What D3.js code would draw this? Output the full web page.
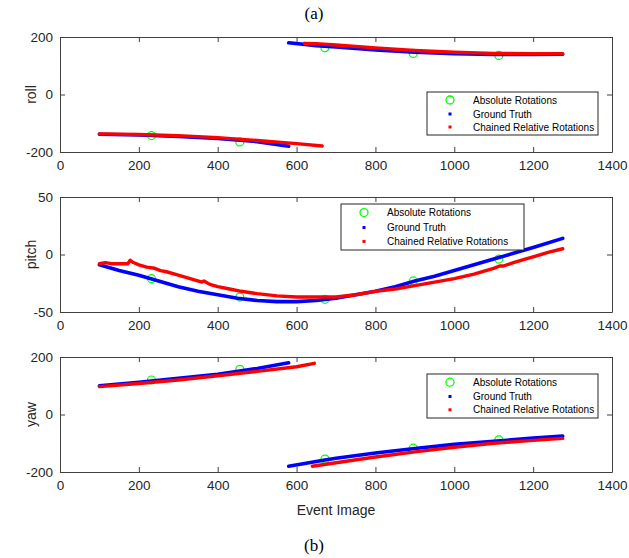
<!DOCTYPE html>
<html>
<head>
<meta charset="utf-8">
<script src="https://cdn.jsdelivr.net/npm/d3@7"></script>
<style>
    body { margin: 0; background: #fff; }
    svg { display: block; }
</style>
</head>
<body>
<div id="chart"></div>
<script>
// values: [event image, angle in degrees], null = wrap-around break
let xTicks = [0, 200, 400, 600, 800, 1000, 1200, 1400];
let legendLabels = ["Absolute Rotations", "Ground Truth", "Chained Relative Rotations"];

let absFrames = [232, 456, 672, 896, 1113];
let rollAbs = [-143, -165, 163, 143, 136];
let pitchAbs = [-21, -37, -39, -23, -4];
let yawAbs = [120, 157, -155, -117, -88];

let rollTruth = [[100, -138], [200, -141], [300, -146], [400, -153], [500, -164], [580, -180], null,
    [580, 180], [650, 170], [700, 165], [800, 155], [900, 147], [1000, 142], [1100, 139], [1200, 139], [1275, 140]];
let rollChained = [[100, -137], [200, -139], [300, -143], [400, -150], [500, -160], [600, -171], [665, -179], null,
    [620, 178], [650, 177], [700, 172], [800, 162], [900, 153], [1000, 147], [1100, 143], [1200, 142], [1275, 142]];

let pitchTruth = [[100, -9], [150, -14], [200, -18], [250, -23], [300, -28], [350, -32], [400, -35], [450, -38],
    [500, -40], [550, -41], [600, -41], [650, -40], [700, -38], [750, -35], [800, -32], [850, -28], [900, -23],
    [950, -19], [1000, -14], [1050, -9], [1100, -4], [1150, 1], [1200, 6], [1275, 14]];
let pitchChained = [[100, -8], [115, -7], [130, -8], [145, -8], [160, -8], [172, -8], [178, -5], [186, -7],
    [200, -9], [220, -11], [240, -12], [255, -14], [270, -15], [300, -18], [330, -21], [360, -24], [365, -23],
    [380, -26], [400, -28], [430, -30], [460, -32], [480, -33], [500, -34], [550, -36], [600, -37], [650, -37],
    [700, -37], [750, -35], [800, -32], [850, -30], [900, -27], [950, -24], [1000, -21], [1050, -17], [1080, -14],
    [1100, -12], [1115, -10], [1125, -10], [1150, -7], [1180, -4], [1200, -2], [1240, 2], [1275, 5]];

let yawTruth = [[100, 100], [200, 112], [300, 126], [400, 140], [500, 160], [580, 180], null,
    [580, -180], [672, -158], [700, -152], [800, -134], [900, -118], [1000, -104], [1100, -93], [1200, -82], [1275, -75]];
let yawChained = [[100, 97], [200, 108], [300, 120], [400, 135], [500, 150], [600, 166], [645, 178], null,
    [640, -180], [700, -168], [800, -148], [900, -130], [1000, -114], [1100, -100], [1200, -90], [1275, -83]];

let panels = [
    { name: "roll", top: 37, ticks: [-200, 0, 200], abs: rollAbs, truth: rollTruth, chained: rollChained,
      legend: { x: 427, y: 92, w: 171, h: 43 } },
    { name: "pitch", top: 197, ticks: [-50, 0, 50], abs: pitchAbs, truth: pitchTruth, chained: pitchChained,
      legend: { x: 341, y: 204, w: 183, h: 46 } },
    { name: "yaw", top: 357, ticks: [-200, 0, 200], abs: yawAbs, truth: yawTruth, chained: yawChained,
      legend: { x: 427, y: 374, w: 171, h: 44 } }
];

let margin = { left: 60, right: 17 };
let width = 629, height = 558;
let plotW = width - margin.left - margin.right;
let plotH = 115;
let axisColor = "#404040";
let sans = "'Liberation Sans', Arial, sans-serif";
let fmt = function (d) { return String(d); };

let svg = d3.select("#chart").append("svg")
    .attr("width", width)
    .attr("height", height);

let xScale = d3.scaleLinear().domain([0, 1400]).range([0, plotW]);

panels.forEach(function (p) {
    let yScale = d3.scaleLinear().domain([p.ticks[0], p.ticks[2]]).range([plotH, 0]);

    let g = svg.append("g")
        .attr("transform", "translate(" + margin.left + "," + p.top + ")");

    // series: green circles first, then ground truth, then chained on top
    let line = d3.line()
        .defined(function (d) { return d !== null; })
        .x(function (d) { return xScale(d[0]); })
        .y(function (d) { return yScale(d[1]); });

    g.selectAll("circle.abs").data(absFrames)
        .enter().append("circle")
        .attr("class", "abs")
        .attr("cx", function (d) { return xScale(d); })
        .attr("cy", function (d, i) { return yScale(p.abs[i]); })
        .attr("r", 4)
        .style("fill", "none")
        .style("stroke", "#00ff00")
        .style("stroke-width", 1.2);

    g.append("path")
        .datum(p.truth)
        .attr("d", line)
        .style("fill", "none")
        .style("stroke", "#0000ff")
        .style("stroke-width", 3.6)
        .style("stroke-linecap", "round");

    g.append("path")
        .datum(p.chained)
        .attr("d", line)
        .style("fill", "none")
        .style("stroke", "#ff0000")
        .style("stroke-width", 3.4)
        .style("stroke-linecap", "round")
        .style("stroke-linejoin", "round");

    // axes box with inward ticks
    let bottom = g.append("g").attr("transform", "translate(0," + plotH + ")")
        .call(d3.axisBottom(xScale).tickValues(xTicks).tickSize(-5).tickSizeOuter(0).tickPadding(8).tickFormat(fmt));
    let top = g.append("g")
        .call(d3.axisTop(xScale).tickValues(xTicks).tickSize(-5).tickSizeOuter(0).tickFormat(""));
    let left = g.append("g")
        .call(d3.axisLeft(yScale).tickValues(p.ticks).tickSize(-5).tickSizeOuter(0).tickPadding(7).tickFormat(fmt));
    let right = g.append("g").attr("transform", "translate(" + plotW + ",0)")
        .call(d3.axisRight(yScale).tickValues(p.ticks).tickSize(-5).tickSizeOuter(0).tickFormat(""));

    [bottom, top, left, right].forEach(function (a) {
        a.selectAll("path, line").style("stroke", axisColor).style("stroke-width", 1);
        a.selectAll("text")
            .style("font-family", sans)
            .style("font-size", "13.5px")
            .style("fill", "#262626");
    });

    g.append("text")
        .attr("transform", "translate(-24," + (plotH / 2) + ") rotate(-90)")
        .attr("text-anchor", "middle")
        .style("font-family", sans)
        .style("font-size", "14px")
        .style("fill", "#262626")
        .text(p.name);

    // legend
    let lg = svg.append("g")
        .attr("transform", "translate(" + p.legend.x + "," + p.legend.y + ")");
    lg.append("rect")
        .attr("width", p.legend.w)
        .attr("height", p.legend.h)
        .style("fill", "#fff")
        .style("stroke", "#262626")
        .style("stroke-width", 1);

    let rowY = [8, 22, 35].map(function (v) { return v * p.legend.h / 43; });
    let markX = 23;
    lg.append("circle")
        .attr("cx", markX).attr("cy", rowY[0]).attr("r", 4)
        .style("fill", "none").style("stroke", "#00ff00").style("stroke-width", 1.3);
    lg.append("rect")
        .attr("x", markX - 1.5).attr("y", rowY[1] - 1.5).attr("width", 3).attr("height", 3)
        .style("fill", "#0000ff");
    lg.append("rect")
        .attr("x", markX - 1.5).attr("y", rowY[2] - 1.5).attr("width", 3).attr("height", 3)
        .style("fill", "#ff0000");

    lg.selectAll("text.entry").data(legendLabels)
        .enter().append("text")
        .attr("class", "entry")
        .attr("x", 46)
        .attr("y", function (d, i) { return rowY[i]; })
        .attr("dy", "0.35em")
        .style("font-family", sans)
        .style("font-size", "10px")
        .style("fill", "#000")
        .text(function (d) { return d; });
});

svg.append("text")
    .attr("x", margin.left + plotW / 2)
    .attr("y", 515)
    .attr("text-anchor", "middle")
    .style("font-family", sans)
    .style("font-size", "14px")
    .style("fill", "#262626")
    .text("Event Image");

svg.append("text")
    .attr("x", 314)
    .attr("y", 19)
    .attr("text-anchor", "middle")
    .style("font-family", "'Liberation Serif', 'Times New Roman', serif")
    .style("font-size", "17px")
    .text("(a)");

svg.append("text")
    .attr("x", 314)
    .attr("y", 551)
    .attr("text-anchor", "middle")
    .style("font-family", "'Liberation Serif', 'Times New Roman', serif")
    .style("font-size", "17px")
    .text("(b)");
</script>
</body>
</html>
